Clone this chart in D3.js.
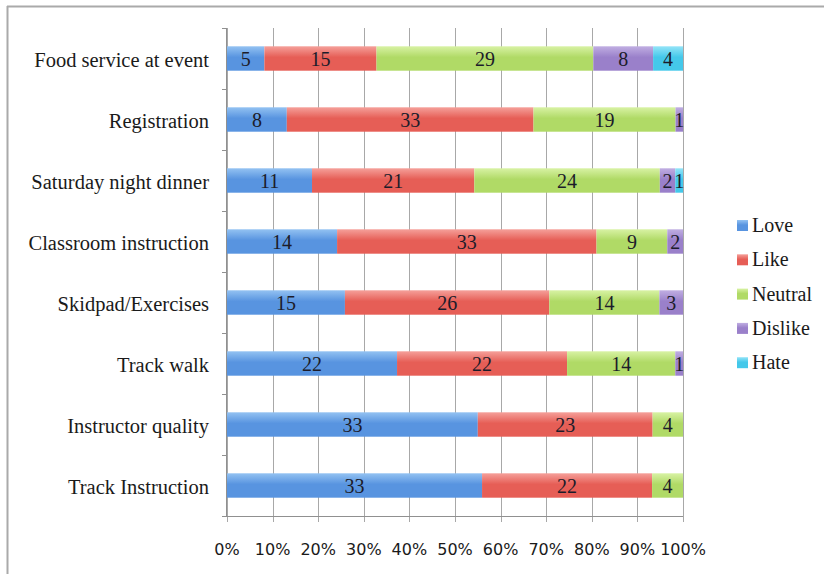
<!DOCTYPE html>
<html>
<head>
<meta charset="utf-8">
<script src="https://cdn.jsdelivr.net/npm/d3@7"></script>
<style>
  body { margin: 0; background: #fff; }
  svg { display: block; }
  .serif { font-family: "Liberation Serif", "Times New Roman", serif; }
  .sans { font-family: "DejaVu Sans", sans-serif; }
</style>
</head>
<body>
<svg id="chart" width="825" height="574"></svg>
<script>
// categories, top to bottom
var categories = ["Food service at event", "Registration", "Saturday night dinner",
  "Classroom instruction", "Skidpad/Exercises", "Track walk",
  "Instructor quality", "Track Instruction"];
var seriesNames = ["Love", "Like", "Neutral", "Dislike", "Hate"];
var love    = [5, 8, 11, 14, 15, 22, 33, 33];
var like    = [15, 33, 21, 33, 26, 22, 23, 22];
var neutral = [29, 19, 24, 9, 14, 14, 4, 4];
var dislike = [8, 1, 2, 2, 3, 1, 0, 0];
var hate    = [4, 0, 1, 0, 0, 0, 0, 0];
var tickLabels = ["0%", "10%", "20%", "30%", "40%", "50%", "60%", "70%", "80%", "90%", "100%"];

var colors = {
  Love:    ["#93c2f2", "#5894e0"],
  Like:    ["#f5a09a", "#e65e56"],
  Neutral: ["#d8f2a4", "#b0da66"],
  Dislike: ["#c0aee2", "#9a80ca"],
  Hate:    ["#94e4f8", "#44c8ea"]
};

var rows = categories.map(function (c, i) {
  return { cat: c, Love: love[i], Like: like[i], Neutral: neutral[i], Dislike: dislike[i], Hate: hate[i] };
});

var svg = d3.select("#chart");

// outer frame
svg.append("line").attr("x1", 7.5).attr("x2", 7.5).attr("y1", 6).attr("y2", 574)
  .attr("stroke", "#aaaaaa").attr("stroke-width", 2);
svg.append("line").attr("x1", 7).attr("x2", 824).attr("y1", 6.5).attr("y2", 6.5)
  .attr("stroke", "#aaaaaa").attr("stroke-width", 2);

var x = d3.scaleLinear().domain([0, 1]).range([227, 683]);
var y = d3.scaleBand().domain(categories).range([28, 516]).paddingInner(0.6).paddingOuter(0.3);
var yb = d3.scaleBand().domain(categories).range([28, 516]);

// gradients
var defs = svg.append("defs");
seriesNames.forEach(function (s) {
  var g = defs.append("linearGradient").attr("id", "g" + s)
    .attr("x1", 0).attr("x2", 0).attr("y1", 0).attr("y2", 1);
  g.append("stop").attr("offset", "0%").attr("stop-color", colors[s][0]);
  g.append("stop").attr("offset", "45%").attr("stop-color", colors[s][1]);
  g.append("stop").attr("offset", "100%").attr("stop-color", colors[s][1]);
});

// grid
svg.append("g").selectAll("line").data(d3.range(0, 1.0001, 0.1)).join("line")
  .attr("x1", function (d) { return Math.round(x(d)) + 0.5; })
  .attr("x2", function (d) { return Math.round(x(d)) + 0.5; })
  .attr("y1", 28).attr("y2", 522)
  .attr("stroke", "#a8a8a8").attr("stroke-width", 1);

// y axis line and ticks
svg.append("line").attr("x1", 226.5).attr("x2", 226.5).attr("y1", 28).attr("y2", 516)
  .attr("stroke", "#909090");
svg.append("g").selectAll("line").data(d3.range(0, categories.length + 1)).join("line")
  .attr("x1", 222).attr("x2", 227)
  .attr("y1", function (i) { return 28 + i * yb.step() + 0.5; })
  .attr("y2", function (i) { return 28 + i * yb.step() + 0.5; })
  .attr("stroke", "#909090");
// x axis line
svg.append("line").attr("x1", 222).attr("x2", 683).attr("y1", 516.5).attr("y2", 516.5)
  .attr("stroke", "#909090");

var stack = d3.stack().keys(seriesNames).offset(d3.stackOffsetExpand);
var layers = stack(rows);

var g = svg.append("g");
layers.forEach(function (layer) {
  var s = layer.key;
  g.selectAll(null).data(layer).join("rect")
    .attr("x", function (d) { return x(d[0]); })
    .attr("width", function (d) { return x(d[1]) - x(d[0]); })
    .attr("y", function (d) { return y(d.data.cat); })
    .attr("height", y.bandwidth())
    .attr("fill", "url(#g" + s + ")");
});
layers.forEach(function (layer) {
  var s = layer.key;
  g.selectAll(null).data(layer.filter(function (d) { return d.data[s] > 0; })).join("text")
    .attr("class", "serif")
    .attr("x", function (d) { return (x(d[0]) + x(d[1])) / 2; })
    .attr("y", function (d) { return y(d.data.cat) + y.bandwidth() / 2 + 7; })
    .attr("text-anchor", "middle")
    .attr("font-size", 20)
    .attr("fill", "#1c1c2a")
    .text(function (d) { return d.data[s]; });
});

// category labels
svg.append("g").selectAll("text").data(categories).join("text")
  .attr("class", "serif")
  .attr("x", 209)
  .attr("y", function (c) { return y(c) + y.bandwidth() / 2 + 8; })
  .attr("text-anchor", "end")
  .attr("font-size", 20.5)
  .attr("fill", "#1a1a1a")
  .text(function (c) { return c; });

// x tick labels
svg.append("g").selectAll("text").data(tickLabels).join("text")
  .attr("class", "sans")
  .attr("x", function (t, i) { return x(i / 10); })
  .attr("y", 555)
  .attr("text-anchor", "middle")
  .attr("font-size", 16)
  .attr("fill", "#1a1a1a")
  .text(function (t) { return t; });

// legend
var leg = svg.append("g").selectAll("g").data(seriesNames).join("g")
  .attr("transform", function (s, i) { return "translate(737," + (220 + i * 34.3) + ")"; });
leg.append("rect").attr("width", 11).attr("height", 11)
  .attr("fill", function (s) { return "url(#g" + s + ")"; });
leg.append("text").attr("class", "serif").attr("x", 15).attr("y", 12)
  .attr("font-size", 20)
  .attr("fill", "#1a1a1a")
  .text(function (s) { return s; });
</script>
</body>
</html>
